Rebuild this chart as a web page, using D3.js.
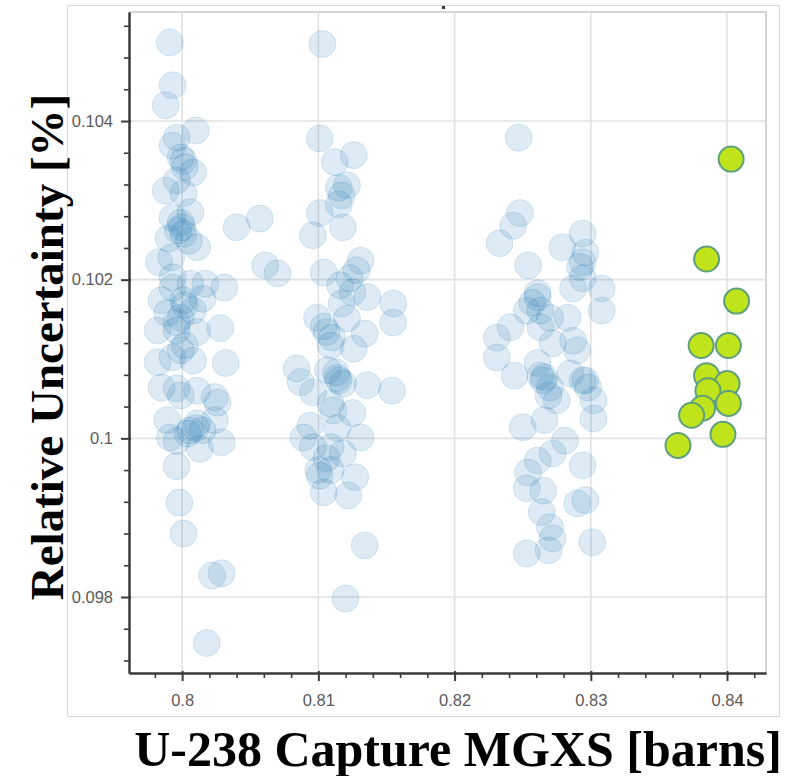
<!DOCTYPE html>
<html>
<head>
<meta charset="utf-8">
<script src="https://cdn.jsdelivr.net/npm/d3@7"></script>
<style>
  body { margin: 0; background: #fff; }
  svg { display: block; }
</style>
</head>
<body>
<svg id="chart" width="789" height="776"></svg>
<script>
// Axis ticks and titles
const xTickValues = [0.80, 0.81, 0.82, 0.83, 0.84];
const xTickLabels = ["0.8", "0.81", "0.82", "0.83", "0.84"];
const yTickValues = [0.098, 0.100, 0.102, 0.104];
const yTickLabels = ["0.098", "0.1", "0.102", "0.104"];
const xTitle = "U-238 Capture MGXS [barns]";
const yTitle = "Relative Uncertainty [%]";
const xDomain = [0.7961, 0.84286];
const yDomain = [0.097042, 0.105374];

// Sampled cross sections [MGXS, relative uncertainty]
const samplesNear080 = [
  [0.7991,0.10499],[0.7993,0.10445],[0.7988,0.10420],[0.8010,0.10388],[0.7996,0.10379],
  [0.7993,0.10369],[0.8001,0.10350],[0.8002,0.10342],[0.8008,0.10335],[0.7988,0.10312],
  [0.8001,0.10309],[0.7993,0.10278],[0.8000,0.10266],[0.8001,0.10258],[0.8005,0.10249],
  [0.8011,0.10241],[0.7990,0.10252],[0.7983,0.10222],[0.8040,0.10266],[0.8057,0.10277],
  [0.8061,0.10218],[0.8070,0.10208],[0.7993,0.10203],[0.7993,0.10190],[0.8017,0.10195],
  [0.8031,0.10190],[0.8001,0.10174],[0.8015,0.10176],[0.7989,0.10158],[0.7999,0.10152],
  [0.8008,0.10161],[0.8028,0.10139],[0.7996,0.10136],[0.8011,0.10134],[0.8032,0.10095],
  [0.7982,0.10096],[0.7993,0.10102],[0.7999,0.10111],[0.8008,0.10098],[0.7985,0.10064],
  [0.7996,0.10063],[0.8011,0.10060],[0.8024,0.10052],[0.8026,0.10045],[0.7989,0.10023],
  [0.8011,0.10019],[0.8024,0.10023],[0.7991,0.10001],[0.8006,0.10010],[0.8015,0.10010],
  [0.7996,0.09997],[0.8029,0.09995],[0.8013,0.09987],[0.7996,0.09965],[0.7998,0.09919],
  [0.8001,0.09880],[0.8022,0.09827],[0.8029,0.09830],[0.8018,0.09742],
  [0.7999,0.10354],[0.7999,0.10272],[0.7997,0.10262],[0.8002,0.10168],[0.7996,0.10146],
  [0.8002,0.10117],[0.7999,0.10054],[0.8004,0.10006],[0.8010,0.10013],[0.7982,0.10136],
  [0.7985,0.10174],[0.8006,0.10195],[0.7992,0.10228],[0.8006,0.10285],[0.7996,0.10325]
];
const samplesNear081 = [
  [0.8103,0.10497],[0.8101,0.10378],[0.8112,0.10348],[0.8126,0.10357],[0.8115,0.10316],
  [0.8121,0.10319],[0.8117,0.10306],[0.8115,0.10295],[0.8101,0.10284],[0.8096,0.10256],
  [0.8118,0.10266],[0.8131,0.10224],[0.8104,0.10209],[0.8123,0.10202],[0.8116,0.10193],
  [0.8125,0.10184],[0.8117,0.10170],[0.8136,0.10178],[0.8155,0.10170],[0.8155,0.10146],
  [0.8099,0.10152],[0.8106,0.10134],[0.8110,0.10127],[0.8134,0.10132],[0.8126,0.10113],
  [0.8084,0.10088],[0.8087,0.10071],[0.8096,0.10058],[0.8107,0.10086],[0.8114,0.10076],
  [0.8118,0.10069],[0.8136,0.10067],[0.8154,0.10060],[0.8109,0.10044],[0.8125,0.10032],
  [0.8114,0.10013],[0.8089,0.10001],[0.8096,0.09989],[0.8109,0.09989],[0.8131,0.10001],
  [0.8118,0.09981],[0.8101,0.09953],[0.8109,0.09960],[0.8127,0.09951],[0.8104,0.09932],
  [0.8122,0.09928],[0.8134,0.09865],[0.8120,0.09798],
  [0.8104,0.10141],[0.8109,0.10117],[0.8113,0.10083],[0.8115,0.10073],[0.8106,0.09975],
  [0.8100,0.09960],[0.8121,0.10151],[0.8128,0.10212],[0.8111,0.10035],[0.8094,0.10016]
];
const samplesNear083 = [
  [0.8247,0.10379],[0.8248,0.10284],[0.8243,0.10268],[0.8233,0.10246],[0.8254,0.10218],
  [0.8279,0.10241],[0.8294,0.10258],[0.8296,0.10234],[0.8292,0.10216],[0.8294,0.10202],
  [0.8287,0.10189],[0.8308,0.10189],[0.8308,0.10161],[0.8261,0.10183],[0.8257,0.10171],
  [0.8263,0.10161],[0.8253,0.10161],[0.8270,0.10152],[0.8283,0.10152],[0.8241,0.10140],
  [0.8231,0.10127],[0.8231,0.10102],[0.8263,0.10140],[0.8287,0.10123],[0.8290,0.10111],
  [0.8272,0.10120],[0.8244,0.10079],[0.8261,0.10095],[0.8266,0.10077],[0.8270,0.10064],
  [0.8285,0.10082],[0.8294,0.10073],[0.8298,0.10064],[0.8302,0.10048],[0.8275,0.10048],
  [0.8266,0.10023],[0.8250,0.10014],[0.8302,0.10025],[0.8281,0.09997],[0.8272,0.09981],
  [0.8261,0.09972],[0.8254,0.09957],[0.8294,0.09966],[0.8253,0.09937],[0.8265,0.09934],
  [0.8296,0.09922],[0.8290,0.09918],[0.8264,0.09907],[0.8270,0.09888],[0.8272,0.09874],
  [0.8301,0.09869],[0.8253,0.09855],[0.8269,0.09859],
  [0.8261,0.10178],[0.8263,0.10079],[0.8265,0.10073],[0.8269,0.10054],[0.8296,0.10073],
  [0.8294,0.10222]
];
const selectedSamples = [
  [0.8403,0.10352],[0.8385,0.10226],[0.8407,0.10173],[0.8381,0.10117],[0.8401,0.10117],
  [0.8385,0.10079],[0.8400,0.10069],[0.8386,0.10060],[0.8401,0.10044],[0.8382,0.10038],
  [0.8374,0.10029],[0.8397,0.10005],[0.8364,0.09991]
];

const svg = d3.select("#chart");
const plot = { left: 129, right: 766, top: 12, bottom: 673 };

const x = d3.scaleLinear().domain(xDomain).range([plot.left, plot.right]);
const y = d3.scaleLinear().domain(yDomain).range([plot.bottom, plot.top]);

const xMinor = d3.range(0.798, 0.8425, 0.002).map(v => +v.toFixed(3))
  .filter(v => !xTickValues.some(t => Math.abs(t - v) < 1e-6));
const yMinor = d3.range(0.0972, 0.1054, 0.0004).map(v => +v.toFixed(4))
  .filter(v => !yTickValues.some(t => Math.abs(t - v) < 1e-6));

// outer frame around the figure
svg.append("rect")
  .attr("x", 67.5).attr("y", 5.5).attr("width", 712).attr("height", 711)
  .attr("fill", "#fff").attr("stroke", "#d8d8d8").attr("stroke-width", 1);

// grid
const grid = svg.append("g").attr("stroke", "#e2e2e2").attr("stroke-width", 1.6);
grid.selectAll(".gx").data(xTickValues).join("line")
  .attr("x1", d => x(d)).attr("x2", d => x(d))
  .attr("y1", plot.top).attr("y2", plot.bottom);
grid.selectAll(".gy").data(yTickValues).join("line")
  .attr("x1", plot.left).attr("x2", plot.right)
  .attr("y1", d => y(d)).attr("y2", d => y(d));

// plot border on top and right
svg.append("path")
  .attr("d", `M${plot.left},${plot.top}H${plot.right}V${plot.bottom}`)
  .attr("fill", "none").attr("stroke", "#d4d4d4").attr("stroke-width", 2);

// sampled points
const blue = samplesNear080.concat(samplesNear081, samplesNear083);
svg.append("g").selectAll("circle").data(blue).join("circle")
  .attr("cx", d => x(d[0])).attr("cy", d => y(d[1])).attr("r", 13.5)
  .attr("fill", "#1f77b4").attr("fill-opacity", 0.15)
  .attr("stroke", "#1f77b4").attr("stroke-opacity", 0.15).attr("stroke-width", 1);

svg.append("g").selectAll("circle").data(selectedSamples).join("circle")
  .attr("cx", d => x(d[0])).attr("cy", d => y(d[1])).attr("r", 12.5)
  .attr("fill", "#bfe41c")
  .attr("stroke", "#5f9f7c").attr("stroke-width", 2);

// axes
const tickFont = "'Liberation Sans', Arial, sans-serif";
const xAxis = svg.append("g").attr("transform", `translate(0,${plot.bottom})`)
  .call(d3.axisBottom(x).tickValues(xTickValues)
    .tickFormat((d, i) => xTickLabels[i]).tickSizeInner(8).tickSizeOuter(0).tickPadding(13));
const xMinorAxis = svg.append("g").attr("transform", `translate(0,${plot.bottom})`)
  .call(d3.axisBottom(x).tickValues(xMinor).tickFormat("").tickSizeInner(5).tickSizeOuter(0));
const yAxis = svg.append("g").attr("transform", `translate(${plot.left},0)`)
  .call(d3.axisLeft(y).tickValues(yTickValues)
    .tickFormat((d, i) => yTickLabels[i]).tickSizeInner(8).tickSizeOuter(0).tickPadding(8));
const yMinorAxis = svg.append("g").attr("transform", `translate(${plot.left},0)`)
  .call(d3.axisLeft(y).tickValues(yMinor).tickFormat("").tickSizeInner(5).tickSizeOuter(0));

[xAxis, xMinorAxis, yAxis, yMinorAxis].forEach(g => {
  g.select(".domain").attr("stroke", "#3a3a3a").attr("stroke-width", 2);
  g.selectAll(".tick line").attr("stroke", "#3a3a3a").attr("stroke-width", 1.6);
  g.selectAll(".tick text")
    .attr("font-family", tickFont).attr("font-size", 16.5).attr("fill", "#5a5a5a");
});
[xAxis, yAxis].forEach(g => g.selectAll(".tick line").attr("stroke-width", 2));
// major ticks reach a little into the plot as well
xAxis.selectAll(".tick line").attr("y1", -2);
yAxis.selectAll(".tick line").attr("x1", 2);

// axis titles
const titleFont = "'Liberation Serif', 'Times New Roman', serif";
svg.append("text")
  .attr("x", 458).attr("y", 766)
  .attr("text-anchor", "middle")
  .attr("font-family", titleFont).attr("font-weight", "bold").attr("font-size", 50)
  .attr("fill", "#000")
  .text(xTitle);
svg.append("text")
  .attr("transform", "translate(63,347) rotate(-90)")
  .attr("text-anchor", "middle")
  .attr("font-family", titleFont).attr("font-weight", "bold").attr("font-size", 47)
  .attr("fill", "#000")
  .text(yTitle);

// small marker at the top edge of the frame
svg.append("rect").attr("x", 442).attr("y", 6).attr("width", 3).attr("height", 3).attr("fill", "#333");
</script>
</body>
</html>
